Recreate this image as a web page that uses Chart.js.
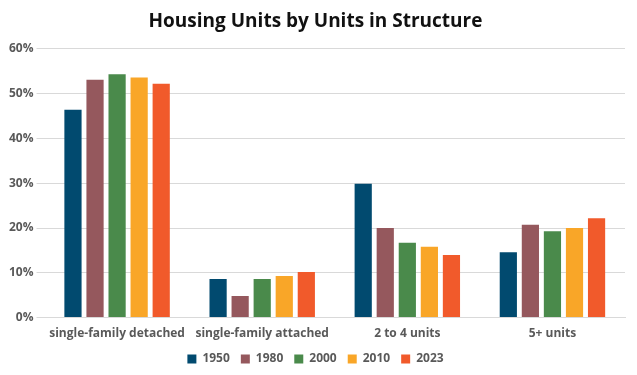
<!DOCTYPE html>
<html>
<head>
<meta charset="utf-8">
<script src="https://cdn.jsdelivr.net/npm/chart.js@4"></script>
<style>
  html, body { margin: 0; padding: 0; background: #fff; }
  #wrap { width: 637px; height: 375px; }
</style>
</head>
<body>
<div id="wrap"><canvas id="chart"></canvas></div>
<script>
// data
const categories = ["single-family detached", "single-family attached", "2 to 4 units", "5+ units"];
const years = ["1950", "1980", "2000", "2010", "2023"];
const v1950 = [46.4, 8.6, 29.9, 14.6];
const v1980 = [53.1, 4.8, 20.0, 20.7];
const v2000 = [54.3, 8.6, 16.7, 19.3];
const v2010 = [53.6, 9.3, 15.8, 20.0];
const v2023 = [52.2, 10.2, 14.0, 22.2];
const yTicks = [0, 10, 20, 30, 40, 50, 60];

const colors = ["#014a6f", "#95585d", "#4a8a4b", "#f9a628", "#f15a2b"];
const series = [v1950, v1980, v2000, v2010, v2023];

const ctx = document.getElementById("chart").getContext("2d");

new Chart(ctx, {
  type: "bar",
  data: {
    labels: categories,
    datasets: years.map((y, i) => ({
      label: y,
      data: series[i],
      backgroundColor: colors[i],
      categoryPercentage: 0.76,
      barPercentage: 0.78
    }))
  },
  options: {
    responsive: true,
    maintainAspectRatio: false,
    animation: false,
    layout: { padding: { left: 6, right: 12, top: 6, bottom: 0 } },
    plugins: {
      title: {
        display: true,
        text: "Housing Units by Units in Structure",
        color: "#111",
        font: { family: "Open Sans", size: 19, weight: "bold" },
        padding: { top: 4, bottom: 16 }
      },
      legend: {
        position: "bottom",
        labels: {
          boxWidth: 9,
          boxHeight: 9,
          padding: 11,
          color: "#595959",
          font: { family: "Open Sans", size: 12, weight: "bold" }
        }
      },
      tooltip: { enabled: false }
    },
    scales: {
      x: {
        grid: { display: false },
        border: { color: "#d9d9d9" },
        ticks: {
          padding: 1,
          color: "#595959",
          font: { family: "Open Sans", size: 12, weight: "bold" }
        }
      },
      y: {
        min: 0,
        max: 60,
        afterBuildTicks: axis => { axis.ticks = yTicks.map(v => ({ value: v })); },
        grid: { color: "#d9d9d9", lineWidth: 1 },
        border: { display: false },
        ticks: {
          padding: 3,
          color: "#595959",
          font: { family: "Open Sans", size: 12, weight: "bold" },
          callback: v => v + "%"
        }
      }
    }
  }
});
</script>
</body>
</html>
